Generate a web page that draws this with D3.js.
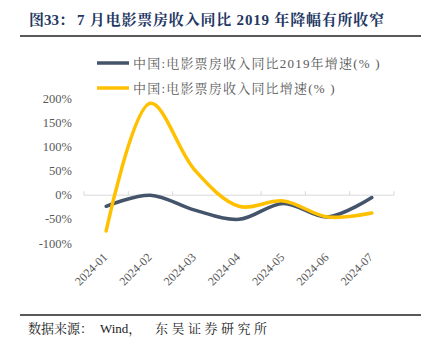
<!DOCTYPE html>
<html><head><meta charset="utf-8">
<script src="https://cdn.jsdelivr.net/npm/d3@7"></script>
<style>body{margin:0;background:#fff}</style>
</head><body>
<script>
const categories = ["2024-01","2024-02","2024-03","2024-04","2024-05","2024-06","2024-07"];
const vs2019 = [-23, 0, -31, -50, -17, -45, -5];
const yoy = [-74, 190, 52, -23, -12, -45, -37];
const yTicks = [-100, -50, 0, 50, 100, 150, 200];
const seriesNames = ["中国:电影票房收入同比2019年增速(% )", "中国:电影票房收入同比增速(% )"];
const colors = ["#44546A", "#FFC000"];

const W = 431, H = 351;
const svg = d3.select("body").append("svg").attr("width", W).attr("height", H);
const serif = "'Liberation Serif','Times New Roman','Noto Serif CJK SC','Noto Sans CJK SC',serif";

// title
const t = svg.append("text").attr("y", 25)
  .attr("font-family", serif).attr("font-weight", "bold").attr("font-size", 15)
  .attr("fill", "#1F3864");
t.append("tspan").attr("x", 29).text("图33：");
t.append("tspan").attr("x", 77).attr("letter-spacing", 0.8).text("7 月电影票房收入同比 2019 年降幅有所收窄");
svg.append("line").attr("x1", 20).attr("x2", 421).attr("y1", 36).attr("y2", 36)
  .attr("stroke", "#222").attr("stroke-width", 1.5);
svg.append("line").attr("x1", 20).attr("x2", 421).attr("y1", 315).attr("y2", 315)
  .attr("stroke", "#222").attr("stroke-width", 1.5);
const s = svg.append("text").attr("y", 333)
  .attr("font-family", serif).attr("font-size", 13).attr("fill", "#222");
s.append("tspan").attr("x", 28).text("数据来源：");
s.append("tspan").attr("x", 100).text("Wind，");
s.append("tspan").attr("x", 155).attr("letter-spacing", 3.5).text("东吴证券研究所");

const x = d3.scaleBand().domain(categories).range([84, 394]);
const y = d3.scaleLinear().domain([-100, 200]).range([243.5, 98.5]);

// y axis labels
svg.append("g").selectAll("text").data(yTicks).join("text")
  .attr("x", 72).attr("y", d => y(d) + 4).attr("text-anchor", "end")
  .attr("font-family", serif).attr("font-size", 12.5).attr("fill", "#595959")
  .text(d => d + "%");

// zero axis line
const ax = svg.append("g").attr("transform", `translate(0,${y(0)})`)
  .call(d3.axisBottom(x).tickSize(5).tickFormat(""));
ax.select(".domain").attr("stroke", "#D9D9D9").attr("d", `M84,0H394`);
ax.selectAll(".tick line").remove();
const bounds = [...categories.map(c => x(c)), 394];
ax.selectAll(".bt").data(bounds).join("line").attr("class", "bt")
  .attr("x1", d => d).attr("x2", d => d).attr("y1", 0).attr("y2", -4)
  .attr("stroke", "#D9D9D9");

// x labels
svg.append("g").selectAll("text").data(categories).join("text")
  .attr("transform", d => `translate(${x(d) + x.bandwidth() / 2 + 2},${258}) rotate(-45)`)
  .attr("text-anchor", "end")
  .attr("font-family", serif).attr("font-size", 12).attr("fill", "#595959")
  .text(d => d);

// lines
const line = d3.line().x((d, i) => x(categories[i]) + x.bandwidth() / 2).y(d => y(d))
  .curve(d3.curveCatmullRom.alpha(0.5));
[vs2019, yoy].forEach((sr, i) => {
  svg.append("path").attr("d", line(sr)).attr("fill", "none")
    .attr("stroke", colors[i]).attr("stroke-width", 3.5).attr("stroke-linecap", "round");
});

// legend
seriesNames.forEach((n, i) => {
  const ly = 63 + i * 25;
  svg.append("line").attr("x1", 97).attr("x2", 129).attr("y1", ly).attr("y2", ly)
    .attr("stroke", colors[i]).attr("stroke-width", 3.5);
  svg.append("text").attr("x", 133).attr("y", ly + 4.5).attr("letter-spacing", 1.2)
    .attr("font-family", serif).attr("font-size", 13).attr("fill", "#595959").text(n);
});
</script>
</body></html>
